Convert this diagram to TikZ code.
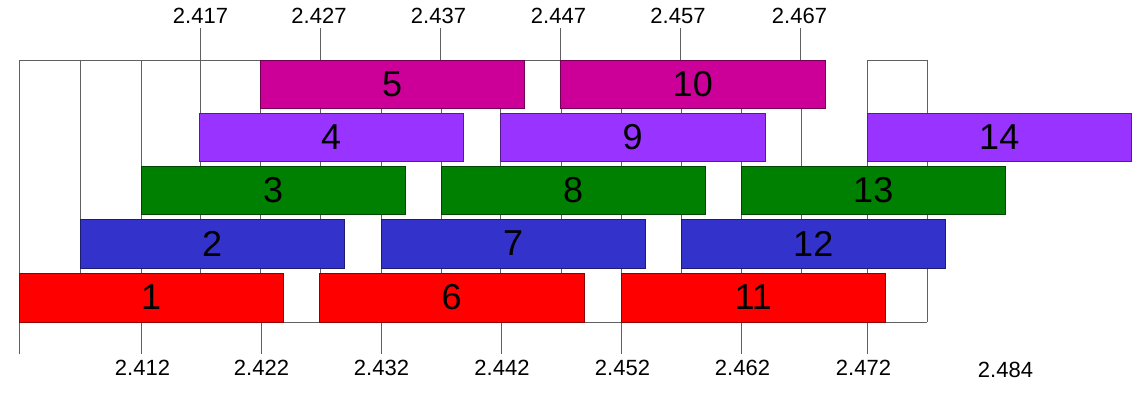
\documentclass[tikz,border=0pt]{standalone}
\usepackage{fontspec}
\setmainfont{Liberation Sans}
\definecolor{cred}{HTML}{FF0000}
\definecolor{cblue}{HTML}{3333CC}
\definecolor{cgreen}{HTML}{008000}
\definecolor{cpurple}{HTML}{9933FF}
\definecolor{cmag}{HTML}{CC0099}
\definecolor{gridc}{HTML}{606060}
\begin{document}
\begin{tikzpicture}[x=1pt,y=-1pt,
  gridline/.style={draw=gridc,line width=1pt},
  bar/.style={draw=#1!55!black,fill=#1,line width=1pt,minimum width=264.5pt,
    inner sep=0pt,font=\fontsize{36}{36}\selectfont},
  r1/.style={minimum height=49pt},
  r2/.style={minimum height=49pt},
  r3/.style={minimum height=48pt},
  r4/.style={minimum height=48pt},
  r5/.style={minimum height=48pt},
  ticklabel/.style={inner sep=0pt,font=\fontsize{22}{22}\selectfont}]
\useasboundingbox (0,0) rectangle (1144,407);
% grid
\foreach \gx in {80,141,200,260,320,381,441,500,561,621,681,741,801,867,927}
  \draw[gridline] (\gx,60) -- (\gx,322);
\draw[gridline] (19,60) -- (19,354);
\draw[gridline] (19,60) -- (801,60);
\draw[gridline] (867,60) -- (927,60);
\draw[gridline] (19,322) -- (927,322);
% ticks
\foreach \gx in {200,320,440,560,680,800}
  \draw[gridline] (\gx,28) -- (\gx,60);
\foreach \gx in {141,261,381,501,621,741,867}
  \draw[gridline] (\gx,322) -- (\gx,354);
% tick labels
\node[ticklabel] (t1) at (200.5,16) {2.417};
\node[ticklabel] (t2) at (319,16) {2.427};
\node[ticklabel] (t3) at (438.5,16) {2.437};
\node[ticklabel] (t4) at (558.5,16) {2.447};
\node[ticklabel] (t5) at (678,16) {2.457};
\node[ticklabel] (t6) at (799.5,16) {2.467};
\node[ticklabel] (b1l) at (142.5,368) {2.412};
\node[ticklabel] (b2l) at (261.5,368) {2.422};
\node[ticklabel] (b3l) at (381.5,368) {2.432};
\node[ticklabel] (b4l) at (502,368) {2.442};
\node[ticklabel] (b5l) at (622.5,368) {2.452};
\node[ticklabel] (b6l) at (742.5,368) {2.462};
\node[ticklabel] (b7l) at (863.5,368) {2.472};
\node[ticklabel] (b8l) at (1005.5,370) {2.484};
% bars
\node[bar=cred,r1] (n1) at (151.25,297.5) {1};
\node[bar=cred,r1] (n6) at (451.75,297.5) {6};
\node[bar=cred,r1] (n11) at (753.25,297.5) {11};
\node[bar=cblue,r2] (n2) at (212.25,243.5) {2};
\node[bar=cblue,r2] (n7) at (513.25,243.5) {7};
\node[bar=cblue,r2] (n12) at (813.25,243.5) {12};
\node[bar=cgreen,r3] (n3) at (273.25,190) {3};
\node[bar=cgreen,r3] (n8) at (573.25,190) {8};
\node[bar=cgreen,r3] (n13) at (873.25,190) {13};
\node[bar=cpurple,r4] (n4) at (331.25,137) {4};
\node[bar=cpurple,r4] (n9) at (632.75,137) {9};
\node[bar=cpurple,r4] (n14) at (999.25,137) {14};
\node[bar=cmag,r5] (n5) at (392.25,84) {5};
\node[bar=cmag,r5] (n10) at (692.75,84) {10};
\end{tikzpicture}
\end{document}
